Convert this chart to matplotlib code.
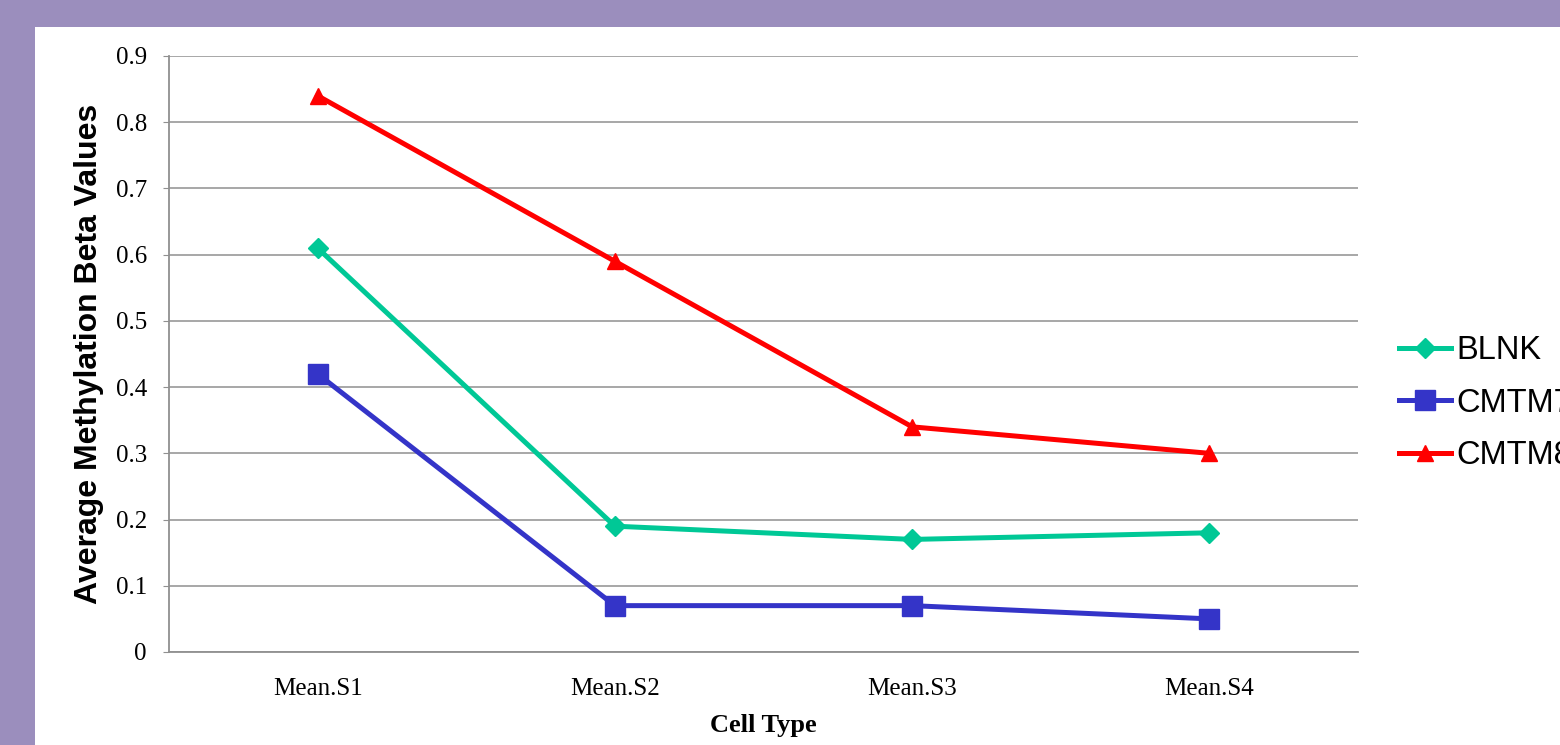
import matplotlib.pyplot as plt
from matplotlib.patches import Rectangle

# Mean beta values per cell type
cell_types = ["Mean.S1", "Mean.S2", "Mean.S3", "Mean.S4"]
blnk = [0.61, 0.19, 0.17, 0.18]
cmtm7 = [0.42, 0.07, 0.07, 0.05]
cmtm8 = [0.84, 0.59, 0.34, 0.30]
y_ticks = [0, 0.1, 0.2, 0.3, 0.4, 0.5, 0.6, 0.7, 0.8, 0.9]

W, H = 1560, 745
fig = plt.figure(figsize=(W / 100, H / 100), dpi=100)
fig.patch.set_facecolor("#9b8ebd")

# white panel on the purple backdrop
fig.add_artist(Rectangle((35 / W, 0), 1 - 35 / W, 1 - 27 / H,
                         transform=fig.transFigure, facecolor="white",
                         edgecolor="none", zorder=0))

ax = fig.add_axes([169 / W, 1 - 652 / H, (1358 - 169) / W, (652 - 56) / H])
ax.set_facecolor("white")

x = range(len(cell_types))
ax.plot(x, blnk, color="#00c896", lw=3.6, marker="D", ms=10, label="BLNK", zorder=3)
ax.plot(x, cmtm7, color="#3434c8", lw=3.6, marker="s", ms=14, label="CMTM7", zorder=3)
ax.plot(x, cmtm8, color="#ff0000", lw=3.6, marker="^", ms=12, label="CMTM8", zorder=3)

ax.set_xlim(-0.5, 3.5)
ax.set_ylim(0, 0.9)
ax.set_yticks(y_ticks)
ax.set_yticklabels([f"{t:g}" for t in y_ticks])
ax.set_xticks(list(x))
ax.set_xticklabels(cell_types)
ax.grid(axis="y", color="#a0a0a0", lw=1.3)
ax.set_axisbelow(True)

for side in ["top", "right"]:
    ax.spines[side].set_visible(False)
for side in ["left", "bottom"]:
    ax.spines[side].set_color("#909090")
    ax.spines[side].set_linewidth(1.3)

ax.tick_params(axis="y", length=4, color="#909090", pad=12,
               labelsize=18, labelfontfamily="Liberation Serif")
ax.tick_params(axis="x", length=0, pad=19,
               labelsize=18, labelfontfamily="Liberation Serif")

ax.set_ylabel("Average Methylation Beta Values", fontsize=23, fontweight="bold",
              family="Liberation Sans", labelpad=8)
ax.set_xlabel("Cell Type", fontsize=19, fontweight="bold",
              family="Liberation Serif", labelpad=10)

# legend runs past the right edge of the figure
ax.legend(loc="center left", bbox_to_anchor=(1399 / W, 1 - 403 / H),
          bbox_transform=fig.transFigure, frameon=False,
          prop={"family": "Liberation Sans", "size": 23.5},
          handlelength=1.6, handletextpad=0.15, labelspacing=0.66,
          borderaxespad=0, borderpad=0)

fig.savefig("out.png", dpi=100, facecolor=fig.get_facecolor())
